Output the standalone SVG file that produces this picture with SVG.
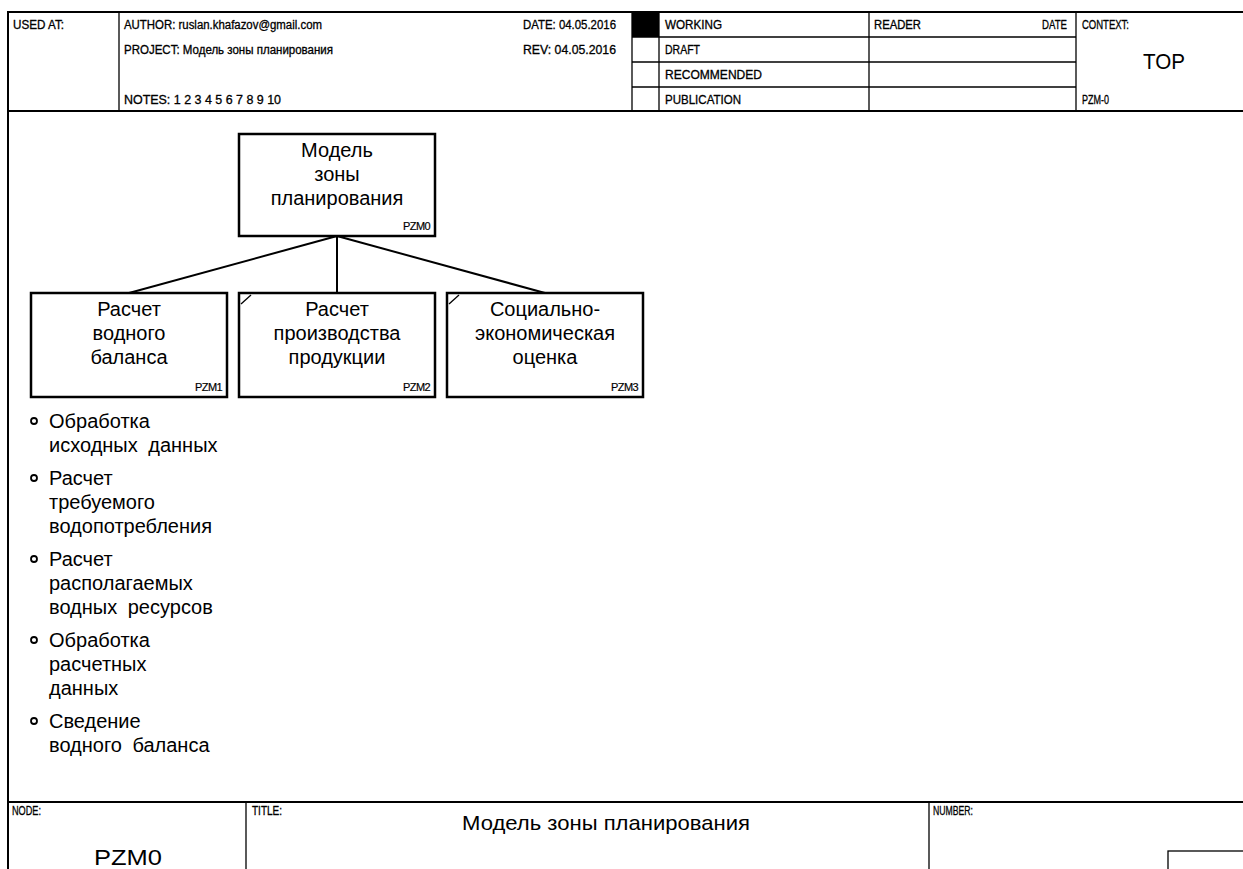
<svg xmlns="http://www.w3.org/2000/svg" width="1243" height="869" viewBox="0 0 1243 869">
<style>
  .frame { fill: none; stroke: #000; stroke-width: 2; }
  .thin { fill: none; stroke: #000; stroke-width: 1.3; }
  .hdr { font-family: "Liberation Sans", Arial, sans-serif; font-size: 12px; fill: #000; stroke: #000; stroke-width: 0.3px; }
  .box { fill: #fff; stroke: #000; stroke-width: 2.5; }
  .lbl { font-family: "Liberation Sans", Arial, sans-serif; font-size: 20px; fill: #000; text-anchor: middle; }
  .id { font-family: "Liberation Sans", Arial, sans-serif; font-size: 11px; fill: #000; text-anchor: end; letter-spacing: -0.6px; stroke: #000; stroke-width: 0.2px; }
  .conn { fill: none; stroke: #000; stroke-width: 2; }
  .item { font-family: "Liberation Sans", Arial, sans-serif; font-size: 20px; fill: #000; }
  .bul { fill: #fff; stroke: #000; stroke-width: 1.8; }
  .big { font-family: "Liberation Sans", Arial, sans-serif; fill: #000; text-anchor: middle; }
</style>
<rect width="1243" height="869" fill="#fff"/>

<g id="header">
  <line class="frame" x1="8" y1="12" x2="1243" y2="12"/>
  <line class="frame" x1="8" y1="111" x2="1243" y2="111"/>
  <line class="frame" x1="8" y1="11" x2="8" y2="869"/>
  <line class="thin" x1="119" y1="12" x2="119" y2="111"/>
  <line class="thin" x1="632" y1="12" x2="632" y2="111"/>
  <line class="thin" x1="659" y1="12" x2="659" y2="111"/>
  <line class="thin" x1="869" y1="12" x2="869" y2="111"/>
  <line class="thin" x1="1076" y1="12" x2="1076" y2="111"/>
  <line class="thin" x1="632" y1="37" x2="1076" y2="37"/>
  <line class="thin" x1="632" y1="62" x2="1076" y2="62"/>
  <line class="thin" x1="632" y1="87" x2="1076" y2="87"/>
  <rect x="632" y="12" width="27" height="25" fill="#000"/>
  <text class="hdr" x="13" y="29" textLength="51" lengthAdjust="spacingAndGlyphs">USED AT:</text>
  <text class="hdr" x="124" y="29" textLength="198" lengthAdjust="spacingAndGlyphs">AUTHOR:  ruslan.khafazov@gmail.com</text>
  <text class="hdr" x="124" y="54" textLength="209" lengthAdjust="spacingAndGlyphs">PROJECT:  Модель зоны планирования</text>
  <text class="hdr" x="124" y="104" textLength="157" lengthAdjust="spacingAndGlyphs">NOTES:  1  2  3  4  5  6  7  8  9  10</text>
  <text class="hdr" x="523" y="29" textLength="93" lengthAdjust="spacingAndGlyphs">DATE:  04.05.2016</text>
  <text class="hdr" x="523" y="54" textLength="93" lengthAdjust="spacingAndGlyphs">REV:    04.05.2016</text>
  <text class="hdr" x="665" y="29" textLength="57" lengthAdjust="spacingAndGlyphs">WORKING</text>
  <text class="hdr" x="665" y="54" textLength="35" lengthAdjust="spacingAndGlyphs">DRAFT</text>
  <text class="hdr" x="665" y="79" textLength="97" lengthAdjust="spacingAndGlyphs">RECOMMENDED</text>
  <text class="hdr" x="665" y="104" textLength="76" lengthAdjust="spacingAndGlyphs">PUBLICATION</text>
  <text class="hdr" x="874" y="29" textLength="47" lengthAdjust="spacingAndGlyphs">READER</text>
  <text class="hdr" x="1042" y="29" textLength="25" lengthAdjust="spacingAndGlyphs">DATE</text>
  <text class="hdr" x="1082" y="29" textLength="47" lengthAdjust="spacingAndGlyphs">CONTEXT:</text>
  <text class="big" x="1164" y="69" font-size="22" textLength="42" lengthAdjust="spacingAndGlyphs">TOP</text>
  <text class="hdr" x="1082" y="104" textLength="27" lengthAdjust="spacingAndGlyphs">PZM-0</text>
</g>

<g id="connectors">
  <line class="conn" x1="337" y1="236" x2="129" y2="293"/>
  <line class="conn" x1="337" y1="236" x2="337" y2="293"/>
  <line class="conn" x1="337" y1="236" x2="545" y2="293"/>
</g>

<g id="node-PZM0">
  <rect class="box" x="239" y="134" width="196" height="102"/>
  <text class="lbl" x="337" y="157">Модель</text>
  <text class="lbl" x="337" y="181">зоны</text>
  <text class="lbl" x="337" y="205">планирования</text>
  <text class="id" x="430" y="230">PZM0</text>
</g>

<g id="node-PZM1">
  <rect class="box" x="31" y="293" width="196" height="104"/>
  <text class="lbl" x="129" y="316">Расчет</text>
  <text class="lbl" x="129" y="340">водного</text>
  <text class="lbl" x="129" y="364">баланса</text>
  <text class="id" x="222" y="391">PZM1</text>
</g>

<g id="node-PZM2">
  <rect class="box" x="239" y="293" width="196" height="104"/>
  <line class="thin" x1="241" y1="304" x2="251" y2="295"/>
  <text class="lbl" x="337" y="316">Расчет</text>
  <text class="lbl" x="337" y="340">производства</text>
  <text class="lbl" x="337" y="364">продукции</text>
  <text class="id" x="430" y="391">PZM2</text>
</g>

<g id="node-PZM3">
  <rect class="box" x="447" y="293" width="196" height="104"/>
  <line class="thin" x1="449" y1="304" x2="459" y2="295"/>
  <text class="lbl" x="545" y="316">Социально-</text>
  <text class="lbl" x="545" y="340">экономическая</text>
  <text class="lbl" x="545" y="364">оценка</text>
  <text class="id" x="638" y="391">PZM3</text>
</g>

<g id="subitems">
  <circle class="bul" cx="34" cy="421" r="3"/>
  <text class="item" x="49" y="428">Обработка</text>
  <text class="item" x="49" y="452" word-spacing="5">исходных данных</text>
  <circle class="bul" cx="34" cy="478" r="3"/>
  <text class="item" x="49" y="485">Расчет</text>
  <text class="item" x="49" y="509">требуемого</text>
  <text class="item" x="49" y="533">водопотребления</text>
  <circle class="bul" cx="34" cy="559" r="3"/>
  <text class="item" x="49" y="566">Расчет</text>
  <text class="item" x="49" y="590">располагаемых</text>
  <text class="item" x="49" y="614" word-spacing="5">водных ресурсов</text>
  <circle class="bul" cx="34" cy="640" r="3"/>
  <text class="item" x="49" y="647">Обработка</text>
  <text class="item" x="49" y="671">расчетных</text>
  <text class="item" x="49" y="695">данных</text>
  <circle class="bul" cx="34" cy="721" r="3"/>
  <text class="item" x="49" y="728">Сведение</text>
  <text class="item" x="49" y="752" word-spacing="5">водного баланса</text>
</g>

<g id="footer">
  <line class="frame" x1="8" y1="802" x2="1243" y2="802"/>
  <line class="thin" x1="246" y1="802" x2="246" y2="869"/>
  <line class="thin" x1="929" y1="802" x2="929" y2="869"/>
  <rect class="thin" x="1168" y="851" width="80" height="30"/>
  <text class="hdr" x="12" y="815" font-size="11" textLength="29" lengthAdjust="spacingAndGlyphs">NODE:</text>
  <text class="hdr" x="252" y="815" font-size="11" textLength="30" lengthAdjust="spacingAndGlyphs">TITLE:</text>
  <text class="hdr" x="933" y="815" font-size="11" textLength="40" lengthAdjust="spacingAndGlyphs">NUMBER:</text>
  <text class="big" x="606" y="830" font-size="21" textLength="288" lengthAdjust="spacingAndGlyphs">Модель зоны планирования</text>
  <text class="big" x="128" y="865" font-size="22" textLength="68" lengthAdjust="spacingAndGlyphs">PZM0</text>
</g>
</svg>
